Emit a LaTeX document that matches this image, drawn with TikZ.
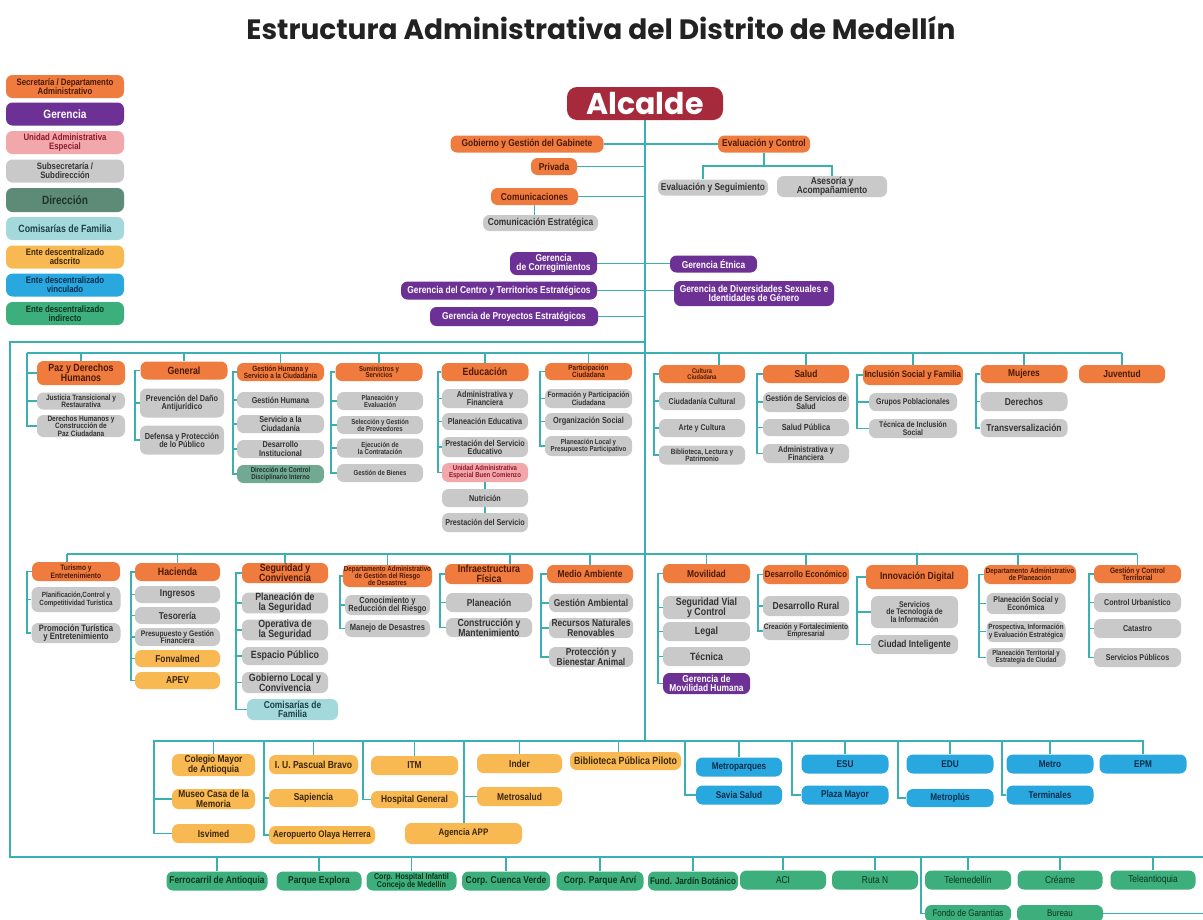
\documentclass[tikz,border=0pt]{standalone}
\usepackage{fontspec}
\setmainfont{Liberation Sans}[FakeStretch=0.84]
\newfontfamily\poppins{Poppins}
\usetikzlibrary{backgrounds}

\definecolor{cLine}{HTML}{3AB0B3}
\definecolor{cOr}{HTML}{EF7B3E}
\definecolor{cOrT}{HTML}{4A1A08}
\definecolor{cPu}{HTML}{6D3196}
\definecolor{cPk}{HTML}{F2A7AA}
\definecolor{cPkT}{HTML}{8C1B2A}
\definecolor{cGr}{HTML}{C9C9C9}
\definecolor{cGrT}{HTML}{333333}
\definecolor{cDi}{HTML}{5E8B78}
\definecolor{cDiL}{HTML}{72A992}
\definecolor{cDiT}{HTML}{1E3329}
\definecolor{cCy}{HTML}{A4D9DC}
\definecolor{cCyT}{HTML}{1C3F46}
\definecolor{cAd}{HTML}{F8B953}
\definecolor{cAdT}{HTML}{3B2608}
\definecolor{cBl}{HTML}{29A8DF}
\definecolor{cBlT}{HTML}{0C2C4A}
\definecolor{cGn}{HTML}{3CAF7C}
\definecolor{cGnT}{HTML}{0C3320}
\definecolor{cAl}{HTML}{A62A3B}
\definecolor{cTit}{HTML}{222222}

% font size with a tight line spacing
\newcommand\fz[1]{\fontsize{#1}{\dimexpr#1pt*19/20\relax}\selectfont}

\tikzset{
  box/.style={rounded corners=6.5, align=center, inner xsep=1, inner ysep=0.5, font=\bfseries\fz{9}},
  fs/.style={font=\bfseries\fz{#1}},
  fr/.style={font=\fz{#1}},
  wh/.style 2 args={minimum width=#1, minimum height=#2},
  secbox/.style={box, fill=cOr, text=cOrT},
  gerbox/.style={box, fill=cPu, text=white},
  uaebox/.style={box, fill=cPk, text=cPkT},
  subbox/.style={box, fill=cGr, text=cGrT},
  dirbox/.style={box, fill=cDi, text=cDiT},
  dirlbox/.style={box, fill=cDiL, text=cDiT},
  comibox/.style={box, fill=cCy, text=cCyT},
  adsbox/.style={box, fill=cAd, text=cAdT},
  vinbox/.style={box, fill=cBl, text=cBlT},
  indbox/.style={box, fill=cGn, text=cGnT},
  conn/.style={draw=cLine, line width=1.6},
}

% bracket: x position, header node, last node, middle nodes
\newcommand\brk[4]{%
  \coordinate (bk) at (#1,0);
  \draw[conn] (#2.west) -| (bk |- #3.west) -- (#3.west);
  \foreach \s in {#4}{\draw[conn] (\s.west) -- (\s.west -| bk);}%
}

\begin{document}
\begin{tikzpicture}[x=1pt,y=-1pt]
\useasboundingbox (0,0) rectangle (1203,919);
\clip (0,0) rectangle (1203,919);

\node[font=\poppins\bfseries\fontsize{28}{30}\selectfont, text=cTit] (title) at (601,28) {Estructura Administrativa del Distrito de Medellín};

% ---------- legend ----------
\node[secbox,fs=9.3,wh={118}{23}] (lg1) at (65,86.5) {Secretaría / Departamento\\Administrativo};
\node[gerbox,fs=12,wh={118}{23}] (lg2) at (65,114) {Gerencia};
\node[uaebox,fs=9.3,wh={118}{23}] (lg3) at (65,142.5) {Unidad Administrativa\\Especial};
\node[subbox,fs=9.3,wh={118}{23}] (lg4) at (65,171) {Subsecretaría /\\Subdirección};
\node[dirbox,fs=12,wh={118}{24}] (lg5) at (65,200) {Dirección};
\node[comibox,fs=10.5,wh={118}{23}] (lg6) at (65,228.5) {Comisarías de Familia};
\node[adsbox,fs=9.3,wh={118}{23}] (lg7) at (65,257) {Ente descentralizado\\adscrito};
\node[vinbox,fs=9.3,wh={118}{23}] (lg8) at (65,285) {Ente descentralizado\\vinculado};
\node[indbox,fs=9.3,wh={118}{23}] (lg9) at (65,313.5) {Ente descentralizado\\indirecto};

% ---------- top ----------
\node[fill=cAl, rounded corners=10, wh={156}{33}, text=white, font=\poppins\bfseries\fontsize{30}{30}\selectfont, inner sep=0] (alc) at (645,103.5) {Alcalde};
\node[secbox,fs=10,wh={153}{17}] (gob) at (527,144) {Gobierno y Gestión del Gabinete};
\node[secbox,fs=10,wh={46}{17}] (priv) at (554,166.5) {Privada};
\node[secbox,fs=10,wh={92}{17}] (eval) at (764,144) {Evaluación y Control};
\node[subbox,fs=10,wh={110}{16}] (evseg) at (713,187.5) {Evaluación y Seguimiento};
\node[subbox,fs=10,wh={110}{21}] (ases) at (832,186.5) {Asesoría y\\Acompañamiento};
\node[secbox,fs=10,wh={87}{17}] (com) at (534.5,196.5) {Comunicaciones};
\node[subbox,fs=10,wh={115}{16}] (comE) at (540.5,223) {Comunicación Estratégica};
\node[gerbox,fs=10,wh={87}{23}] (gcor) at (553.5,263.5) {Gerencia\\de Corregimientos};
\node[gerbox,fs=10,wh={87}{17}] (getn) at (713.5,264) {Gerencia Étnica};
\node[gerbox,fs=10,wh={196}{18}] (gcen) at (499,290.5) {Gerencia del Centro y Territorios Estratégicos};
\node[gerbox,fs=10,wh={160}{25}] (gdiv) at (754,293.5) {Gerencia de Diversidades Sexuales e\\Identidades de Género};
\node[gerbox,fs=10,wh={168}{19}] (gpro) at (514,316.5) {Gerencia de Proyectos Estratégicos};

% ---------- first row of secretarías ----------
\node[secbox,fs=10.5,wh={88}{24}] (paz) at (81,373) {Paz y Derechos\\Humanos};
\node[subbox,fs=7.8,wh={88}{17}] (just) at (81,401) {Justicia Transicional y\\Restaurativa};
\node[subbox,fs=7.8,wh={88}{22}] (dhum) at (81,426) {Derechos Humanos y\\Construcción de\\Paz Ciudadana};

\node[secbox,fs=10.5,wh={87}{18}] (gen) at (184,370.5) {General};
\node[subbox,fs=8.7,wh={84}{29}] (prev) at (182,403) {Prevención del Daño\\Antijurídico};
\node[subbox,fs=8.7,wh={84}{29}] (def) at (182,440) {Defensa y Protección\\de lo Público};

\node[secbox,fs=7.6,wh={87}{18}] (ghum) at (280.5,372) {Gestión Humana y\\Servicio a la Ciudadanía};
\node[subbox,fs=8.6,wh={87}{16}] (gh1) at (280.5,400) {Gestión Humana};
\node[subbox,fs=8.6,wh={87}{18}] (gh2) at (280.5,424) {Servicio a la\\Ciudadanía};
\node[subbox,fs=8.6,wh={87}{18}] (gh3) at (280.5,449) {Desarrollo\\Institucional};
\node[dirlbox,fs=7.2,wh={87}{18}] (gh4) at (280.5,474) {Dirección de Control\\Disciplinario Interno};

\node[secbox,fs=7.2,wh={87}{18}] (sum) at (379,372) {Suministros y\\Servicios};
\node[subbox,fs=7.2,wh={86}{18}] (su1) at (380,401) {Planeación y\\Evaluación};
\node[subbox,fs=7.2,wh={86}{18}] (su2) at (380,425) {Selección y Gestión\\de Proveedores};
\node[subbox,fs=7.2,wh={86}{19}] (su3) at (380,448) {Ejecución de\\la Contratación};
\node[subbox,fs=7.2,wh={86}{18}] (su4) at (380,473) {Gestión de Bienes};

\node[secbox,fs=10.5,wh={87}{18}] (edu) at (485,372) {Educación};
\node[subbox,fs=8.6,wh={86}{19}] (ed1) at (485,398.5) {Administrativa y\\Financiera};
\node[subbox,fs=8.6,wh={86}{17}] (ed2) at (485,421.5) {Planeación Educativa};
\node[subbox,fs=8.6,wh={86}{20}] (ed3) at (485,447) {Prestación del Servicio\\Educativo};
\node[uaebox,fs=7.2,wh={86}{19}] (ed4) at (485,472.5) {Unidad Administrativa\\Especial Buen Comienzo};
\node[subbox,fs=8.6,wh={86}{18}] (ed5) at (485,498) {Nutrición};
\node[subbox,fs=8.6,wh={86}{19}] (ed6) at (485,522.5) {Prestación del Servicio};

\node[secbox,fs=7.6,wh={87}{17}] (part) at (588.5,371.5) {Participación\\Ciudadana};
\node[subbox,fs=7.8,wh={87}{19}] (pa1) at (588.5,398.5) {Formación y Participación\\Ciudadana};
\node[subbox,fs=8.8,wh={87}{17}] (pa2) at (588.5,421.5) {Organización Social};
\node[subbox,fs=7.3,wh={87}{20}] (pa3) at (588.5,446) {Planeación Local y\\Presupuesto Participativo};

\node[secbox,fs=6.8,wh={86}{18}] (cult) at (702,374) {Cultura\\Ciudadana};
\node[subbox,fs=8.4,wh={86}{18}] (cu1) at (702,401) {Ciudadanía Cultural};
\node[subbox,fs=8.4,wh={86}{18}] (cu2) at (702,428) {Arte y Cultura};
\node[subbox,fs=7.6,wh={86}{19}] (cu3) at (702,455) {Biblioteca, Lectura y\\Patrimonio};

\node[secbox,fs=10,wh={86}{18}] (sal) at (806,374) {Salud};
\node[subbox,fs=8.5,wh={86}{20}] (sa1) at (806,402) {Gestión de Servicios de\\Salud};
\node[subbox,fs=8.8,wh={86}{17}] (sa2) at (806,427.5) {Salud Pública};
\node[subbox,fs=8.5,wh={86}{19}] (sa3) at (806,453.5) {Administrativa y\\Financiera};

\node[secbox,fs=9.4,wh={100}{20}] (inc) at (913,375) {Inclusión Social y Familia};
\node[subbox,fs=8.3,wh={88}{18}] (in1) at (913,402) {Grupos Poblacionales};
\node[subbox,fs=8.2,wh={88}{19}] (in2) at (913,428.5) {Técnica de Inclusión\\Social};

\node[secbox,fs=10,wh={87}{18}] (muj) at (1024,374) {Mujeres};
\node[subbox,fs=10,wh={87}{19}] (mu1) at (1024,401.5) {Derechos};
\node[subbox,fs=10,wh={87}{18}] (mu2) at (1024,428) {Transversalización};

\node[secbox,fs=10,wh={86}{18}] (juv) at (1122,374) {Juventud};

% ---------- second row of secretarías ----------
\node[secbox,fs=7.9,wh={88}{19}] (tur) at (76,571.5) {Turismo y\\Entretenimiento};
\node[subbox,fs=7.5,wh={89}{25}] (tu1) at (76,599.5) {Planificación,Control y\\Competitividad Turística};
\node[subbox,fs=9.2,wh={89}{20}] (tu2) at (76,633) {Promoción Turística\\y Entretenimiento};

\node[secbox,fs=10.5,wh={85}{18}] (hac) at (177.5,572) {Hacienda};
\node[subbox,fs=10,wh={85}{17}] (ha1) at (177.5,594.5) {Ingresos};
\node[subbox,fs=10,wh={85}{17}] (ha2) at (177.5,615.5) {Tesorería};
\node[subbox,fs=8,wh={85}{18}] (ha3) at (177.5,637) {Presupuesto y Gestión\\Financiera};
\node[adsbox,fs=10,wh={85}{17}] (ha4) at (177.5,658.5) {Fonvalmed};
\node[adsbox,fs=10,wh={85}{17}] (ha5) at (177.5,680.5) {APEV};

\node[secbox,fs=10.5,wh={86}{20}] (seg) at (285,573) {Seguridad y\\Convivencia};
\node[subbox,fs=10.5,wh={86}{20}] (se1) at (285,603) {Planeación de\\la Seguridad};
\node[subbox,fs=10.5,wh={86}{20}] (se2) at (285,630) {Operativa de\\la Seguridad};
\node[subbox,fs=10.5,wh={86}{18}] (se3) at (285,656) {Espacio Público};
\node[subbox,fs=10.5,wh={86}{21}] (se4) at (285,682.5) {Gobierno Local y\\Convivencia};
\node[comibox,fs=10,wh={91}{21}] (se5) at (292.5,709.5) {Comisarías de\\Familia};

\node[secbox,fs=7.4,wh={89}{22}] (rie) at (387.5,576) {Departamento Administrativo\\de Gestión del Riesgo\\de Desastres};
\node[subbox,fs=8.9,wh={85}{20}] (ri1) at (387.5,605) {Conocimiento y\\Reducción del Riesgo};
\node[subbox,fs=9,wh={85}{17}] (ri2) at (387.5,628.5) {Manejo de Desastres};

\node[secbox,fs=10.5,wh={88}{20}] (inf) at (489,574) {Infraestructura\\Física};
\node[subbox,fs=10,wh={86}{19}] (if1) at (489,602.5) {Planeación};
\node[subbox,fs=10.3,wh={86}{19}] (if2) at (489,627.5) {Construcción y\\Mantenimiento};

\node[secbox,fs=10,wh={86}{18}] (med) at (590,574) {Medio Ambiente};
\node[subbox,fs=10,wh={84}{18}] (me1) at (591,603) {Gestión Ambiental};
\node[subbox,fs=10,wh={84}{20}] (me2) at (591,628) {Recursos Naturales\\Renovables};
\node[subbox,fs=10,wh={84}{20}] (me3) at (591,657) {Protección y\\Bienestar Animal};

\node[secbox,fs=10,wh={87}{19}] (mov) at (706.5,573.5) {Movilidad};
\node[subbox,fs=10.5,wh={87}{23}] (mo1) at (706.5,607.5) {Seguridad Vial\\y Control};
\node[subbox,fs=10.5,wh={87}{19}] (mo2) at (706.5,631.5) {Legal};
\node[subbox,fs=10.5,wh={87}{19}] (mo3) at (706.5,656.5) {Técnica};
\node[gerbox,fs=10,wh={87}{21}] (mo4) at (706.5,683.5) {Gerencia de\\Movilidad Humana};

\node[secbox,fs=9.2,wh={86}{19}] (dec) at (806,574.5) {Desarrollo Económico};
\node[subbox,fs=10.2,wh={86}{20}] (de1) at (806,606) {Desarrollo Rural};
\node[subbox,fs=7.8,wh={86}{18}] (de2) at (806,631) {Creación y Fortalecimiento\\Empresarial};

\node[secbox,fs=10.2,wh={102}{24}] (inn) at (917,577) {Innovación Digital};
\node[subbox,fs=8.3,wh={87}{32}] (iv1) at (914.5,612) {Servicios\\de Tecnología de\\la Información};
\node[subbox,fs=10,wh={87}{19}] (iv2) at (914.5,644.5) {Ciudad Inteligente};

\node[secbox,fs=7.5,wh={92}{19}] (dap) at (1030,574.5) {Departamento Administrativo\\de Planeación};
\node[subbox,fs=8.3,wh={79}{21}] (dp1) at (1026,603.5) {Planeación Social y\\Económica};
\node[subbox,fs=7.5,wh={79}{21}] (dp2) at (1026,631.5) {Prospectiva, Información\\y Evaluación Estratégica};
\node[subbox,fs=7.3,wh={79}{19}] (dp3) at (1026,657.5) {Planeación Territorial y\\Estrategia de Ciudad};

\node[secbox,fs=7.8,wh={87}{18}] (gct) at (1137.5,574) {Gestión y Control\\Territorial};
\node[subbox,fs=8.5,wh={87}{19}] (gc1) at (1137.5,602.5) {Control Urbanístico};
\node[subbox,fs=8.5,wh={87}{19}] (gc2) at (1137.5,628.5) {Catastro};
\node[subbox,fs=8.5,wh={87}{19}] (gc3) at (1137.5,657.5) {Servicios Públicos};

% ---------- decentralised entities ----------
\node[adsbox,fs=10,wh={83}{22}] (col) at (213.5,765) {Colegio Mayor\\de Antioquia};
\node[adsbox,fs=10,wh={83}{20}] (mus) at (213.5,799) {Museo Casa de la\\Memoria};
\node[adsbox,fs=10,wh={83}{19}] (isv) at (213.5,833.5) {Isvimed};
\node[adsbox,fs=10.2,wh={89}{19}] (pas) at (313.5,764.5) {I. U. Pascual Bravo};
\node[adsbox,fs=10,wh={89}{18}] (sap) at (313.5,798) {Sapiencia};
\node[adsbox,fs=9.5,wh={106}{18}] (aer) at (322,835) {Aeropuerto Olaya Herrera};
\node[adsbox,fs=10,wh={87}{19}] (itm) at (414.5,765.5) {ITM};
\node[adsbox,fs=10,wh={87}{17}] (hos) at (414.5,799.5) {Hospital General};
\node[adsbox,fs=10,wh={85}{19}] (ind) at (519.5,763.5) {Inder};
\node[adsbox,fs=10,wh={85}{19}] (mets) at (519.5,796.5) {Metrosalud};
\node[adsbox,fs=9.5,wh={117}{21}] (app) at (463.5,833.5) {Agencia APP};
\node[adsbox,fs=10.5,wh={111}{18}] (bib) at (625.5,761) {Biblioteca Pública Piloto};

\node[vinbox,fs=9.8,wh={86}{19}] (mpq) at (739,767) {Metroparques};
\node[vinbox,fs=9.8,wh={86}{19}] (sav) at (739,795) {Savia Salud};
\node[vinbox,fs=9.8,wh={87}{19}] (esu) at (845,764) {ESU};
\node[vinbox,fs=9.8,wh={87}{19}] (plz) at (845,795) {Plaza Mayor};
\node[vinbox,fs=9.8,wh={87}{19}] (edu2) at (950,764) {EDU};
\node[vinbox,fs=9.8,wh={87}{18}] (mpl) at (950,798) {Metroplús};
\node[vinbox,fs=9.8,wh={87}{19}] (mtr) at (1050,764) {Metro};
\node[vinbox,fs=9.8,wh={87}{19}] (ter) at (1050,795) {Terminales};
\node[vinbox,fs=9.8,wh={87}{19}] (epm) at (1143,764) {EPM};

\node[indbox,fs=10,wh={101}{19}] (fer) at (217,881) {Ferrocarril de Antioquia};
\node[indbox,fs=10,wh={85}{19}] (exp) at (319,881) {Parque Explora};
\node[indbox,fs=8.5,wh={90}{19}] (chi) at (411.5,881) {Corp. Hospital Infantil\\Concejo de Medellín};
\node[indbox,fs=10,wh={88}{19}] (ccv) at (506,881) {Corp. Cuenca Verde};
\node[indbox,fs=10,wh={87}{19}] (cpa) at (600,881) {Corp. Parque Arví};
\node[indbox,fs=9.6,wh={90}{19}] (fjb) at (693,881) {Fund. Jardín Botánico};
\node[indbox,fr=10,wh={86}{19}] (aci) at (783,880) {ACI};
\node[indbox,fr=10,wh={86}{19}] (rtn) at (875,880) {Ruta N};
\node[indbox,fr=10,wh={86}{19}] (tmd) at (968,880) {Telemedellín};
\node[indbox,fr=10,wh={85}{19}] (cre) at (1060,880) {Créame};
\node[indbox,fr=10,wh={85}{19}] (tla) at (1153,880) {Teleantioquia};
\node[indbox,fr=9.5,wh={86}{17}] (fgr) at (968,913.5) {Fondo de Garantías};
\node[indbox,fr=9.5,wh={86}{17}] (bur) at (1060,913.5) {Bureau};

% ---------- connectors ----------
\begin{scope}[on background layer]
  \fill[white] (0,0) rectangle (1203,919);
  \coordinate (frTop) at (645,342);
  \coordinate (frTL) at (10,342);
  \coordinate (frBL) at (10,857);
  \coordinate (frBR) at (1203,857);
  \coordinate (r1L) at (27,353);
  \coordinate (r1R) at (1122,353);
  \coordinate (r2L) at (67,554);
  \coordinate (r2R) at (1137,554);
  \coordinate (r3L) at (153,741);
  \coordinate (r3R) at (1144,741);
  \coordinate (spineEnd) at (645,741);

  % spine and outer frame
  \draw[conn] (alc.south) -- (spineEnd);
  \draw[conn] (frTop) -- (frTL) -- (frBL) -- (frBR);

  % offices next to the mayor
  \draw[conn] (gob.east) -- (gob.east -| eval.west);
  \draw[conn] (priv.east) -- (priv.east -| alc.south);
  \draw[conn] (com.east) -- (com.east -| alc.south);
  \draw[conn] (com.south) -- (com.south |- comE.north);
  \coordinate (evBar) at (764,166);
  \coordinate (evsegTop) at ([xshift=-10]evseg.north);
  \draw[conn] (eval.south) -- (evBar);
  \draw[conn] (evsegTop) |- (ases.north |- evBar) -- (ases.north);
  \draw[conn] (gcor.east) -- (gcor.east -| getn.west);
  \draw[conn] (gcen.east) -- (gcen.east -| gdiv.west);
  \draw[conn] (gpro.east) -- (gpro.east -| alc.south);

  % first row
  \draw[conn] (r1L) -- (r1R);
  \foreach \n in {paz,gen,ghum,sum,edu,part,sal,inc,muj,juv}
    {\draw[conn] (\n.north) -- (\n.north |- r1L);}
  \coordinate (cultTop) at ([xshift=17]cult.north);
  \draw[conn] (cultTop) -- (cultTop |- r1L);
  \draw[conn] (r1L) |- (dhum.west);
  \foreach \s in {paz,just}{\draw[conn] (\s.west) -- (\s.west -| r1L);}
  \brk{135}{gen}{def}{prev}
  \brk{233}{ghum}{gh4}{gh1,gh2,gh3}
  \brk{331}{sum}{su4}{su1,su2,su3}
  \brk{438}{edu}{ed4}{ed1,ed2,ed3}
  \draw[conn] (ed4.south) -- (ed5.north);
  \draw[conn] (ed5.south) -- (ed6.north);
  \brk{540}{part}{pa3}{pa1,pa2}
  \brk{654}{cult}{cu3}{cu1,cu2}
  \brk{757}{sal}{sa3}{sa1,sa2}
  \brk{857}{inc}{in2}{in1}
  \brk{976}{muj}{mu2}{mu1}

  % second row
  \draw[conn] (r2L) -- (r2R);
  \foreach \n in {hac,seg,rie,med,mov,dec,inn,gct}
    {\draw[conn] (\n.north) -- (\n.north |- r2L);}
  \coordinate (turTop) at ([xshift=-9]tur.north);
  \coordinate (infTop) at ([xshift=21]inf.north);
  \coordinate (dapTop) at ([xshift=-12]dap.north);
  \foreach \n in {turTop,infTop,dapTop}{\draw[conn] (\n) -- (\n |- r2L);}
  \brk{27}{tur}{tu2}{tu1}
  \brk{131}{hac}{ha5}{ha1,ha2,ha3,ha4}
  \brk{236}{seg}{se5}{se1,se2,se3,se4}
  \brk{340}{rie}{ri2}{ri1}
  \brk{440}{inf}{if2}{if1}
  \brk{541}{med}{me3}{me1,me2}
  \brk{658}{mov}{mo4}{mo1,mo2,mo3}
  \brk{758}{dec}{de2}{de1}
  \brk{857}{inn}{iv2}{iv1}
  \brk{979}{dap}{dp3}{dp1,dp2}
  \brk{1089}{gct}{gc3}{gc1,gc2}

  % adscribed and linked entities
  \draw[conn] (r3L) -- (r3R);
  \foreach \n in {col,pas,itm,ind,mpq,esu,edu2,mtr,epm}
    {\draw[conn] (\n.north) -- (\n.north |- r3L);}
  \coordinate (bibTop) at ([xshift=-7]bib.north);
  \draw[conn] (bibTop) -- (bibTop |- r3L);
  \coordinate (g1) at (154,741);
  \coordinate (g2) at (264,741);
  \coordinate (g3) at (363,741);
  \coordinate (g4) at (464,741);
  \coordinate (v1) at (685,741);
  \coordinate (v2) at (792,741);
  \coordinate (v3) at (898,741);
  \coordinate (v4) at (1002,741);
  \draw[conn] (g1) |- (isv.west);  \draw[conn] (mus.west) -- (mus.west -| g1);
  \draw[conn] (g2) |- (aer.west);  \draw[conn] (sap.west) -- (sap.west -| g2);
  \draw[conn] (g3) |- (hos.west);
  \draw[conn] (g4) -- (g4 |- app.north); \draw[conn] (mets.west) -- (mets.west -| g4);
  \draw[conn] (v1) |- (sav.west);
  \draw[conn] (v2) |- (plz.west);
  \draw[conn] (v3) |- (mpl.west);
  \draw[conn] (v4) |- (ter.west);

  % indirect entities
  \foreach \n in {fer,exp,chi,ccv,cpa,fjb,aci,rtn,tmd,cre,tla}
    {\draw[conn] (\n.north) -- (\n.north |- frBL);}
  \coordinate (bkF) at (921,857);
  \draw[conn] (bkF) |- (fgr.west);
  \draw[conn] (bur.east) -- (bur.east -| frBR);
\end{scope}
\end{tikzpicture}
\end{document}
